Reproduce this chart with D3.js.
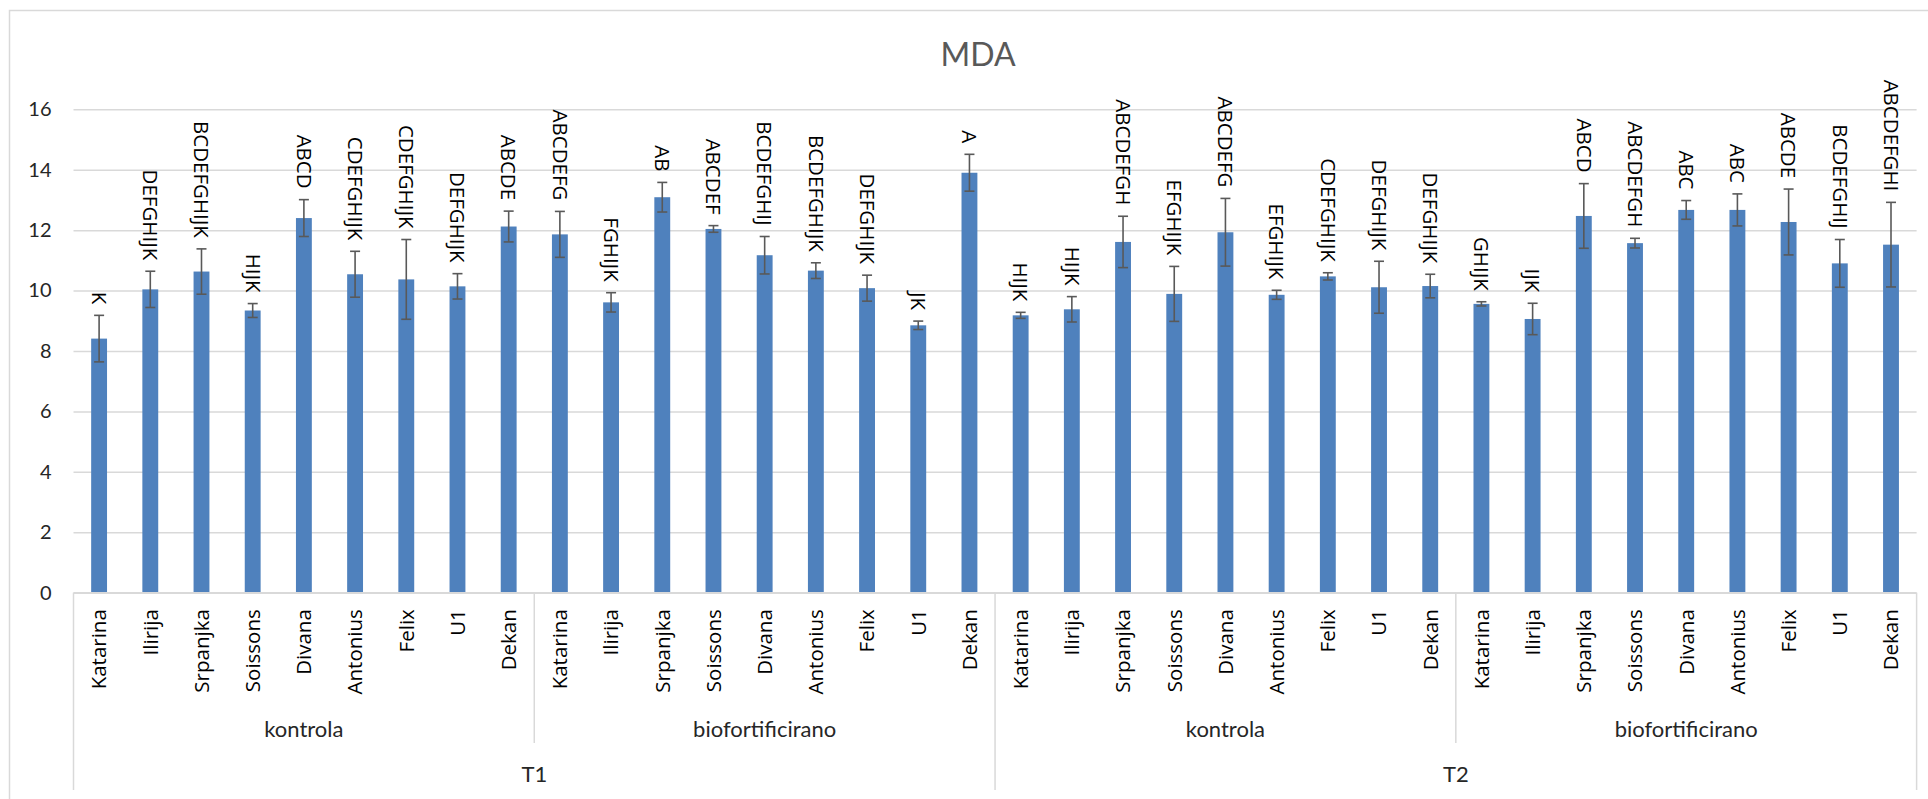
<!DOCTYPE html>
<html>
<head>
<meta charset="utf-8">
<script src="https://cdn.jsdelivr.net/npm/d3@7"></script>
<style>
  html, body { margin: 0; padding: 0; background: #ffffff; }
  svg { display: block; }
</style>
</head>
<body>
<svg id="chart" width="1928" height="799"></svg>
<script>
// ---------------- data ----------------
const times = ["T1", "T2"];
const treatments = ["kontrola", "biofortificirano"];
const cultivars = ["Katarina", "Ilirija", "Srpanjka", "Soissons", "Divana", "Antonius", "Felix", "U1", "Dekan"];

// MDA means, order: T1 kontrola, T1 biofortificirano, T2 kontrola, T2 biofortificirano
const values = [
  8.41, 10.04, 10.63, 9.34, 12.40, 10.54, 10.37, 10.14, 12.12,
  11.86, 9.61, 13.09, 12.04, 11.17, 10.66, 10.08, 8.85, 13.90,
  9.18, 9.38, 11.61, 9.89, 11.93, 9.86, 10.47, 10.11, 10.15,
  9.56, 9.06, 12.47, 11.57, 12.67, 12.67, 12.27, 10.90, 11.52
];
const errors = [
  0.77, 0.60, 0.75, 0.23, 0.61, 0.76, 1.32, 0.42, 0.51,
  0.76, 0.32, 0.49, 0.11, 0.62, 0.26, 0.43, 0.14, 0.61,
  0.10, 0.42, 0.85, 0.91, 1.12, 0.15, 0.12, 0.86, 0.39,
  0.07, 0.52, 1.07, 0.16, 0.31, 0.53, 1.09, 0.79, 1.40
];
const letters = [
  "K", "DEFGHIJK", "BCDEFGHIJK", "HIJK", "ABCD", "CDEFGHIJK", "CDEFGHIJK", "DEFGHIJK", "ABCDE",
  "ABCDEFG", "FGHIJK", "AB", "ABCDEF", "BCDEFGHIJ", "BCDEFGHIJK", "DEFGHIJK", "JK", "A",
  "HIJK", "HIJK", "ABCDEFGH", "EFGHIJK", "ABCDEFG", "EFGHIJK", "CDEFGHIJK", "DEFGHIJK", "DEFGHIJK",
  "GHIJK", "IJK", "ABCD", "ABCDEFGH", "ABC", "ABC", "ABCDE", "BCDEFGHIJ", "ABCDEFGHI"
];
const yTicks = [0, 2, 4, 6, 8, 10, 12, 14, 16];
const title = "MDA";

// ---------------- build rows ----------------
const rows = [];
times.forEach((t, ti) => treatments.forEach((tr, ri) => cultivars.forEach((c, ci) => {
  const i = rows.length;
  rows.push({ i, time: t, treatment: tr, cultivar: c, value: values[i], err: errors[i], letter: letters[i] });
})));

// ---------------- layout ----------------
const W = 1928, H = 799;
const plot = { left: 73.5, right: 1916.6, top: 109.3, bottom: 592.7 };
const svg = d3.select("#chart");

const x = d3.scaleBand()
  .domain(rows.map(d => d.i))
  .range([plot.left, plot.right])
  .paddingInner(0.69)
  .paddingOuter(0.345);
const y = d3.scaleLinear().domain([0, 16]).range([plot.bottom, plot.top]);
const step = x.step();
const cx = i => x(i) + x.bandwidth() / 2;
const boundary = i => cx(i) - step / 2;

const gridColor = "#d9d9d9";

// chart border
svg.append("rect")
  .attr("x", 9.5).attr("y", 10.5)
  .attr("width", W + 40).attr("height", H + 40)
  .attr("fill", "none").attr("stroke", gridColor).attr("stroke-width", 1.5);

// title
svg.append("text")
  .attr("x", 978).attr("y", 66)
  .attr("text-anchor", "middle")
  .attr("font-family", "Lato, 'Open Sans', sans-serif")
  .attr("font-size", 32)
  .attr("fill", "#595959")
  .text(title);

// y axis (gridlines + labels)
const yAxis = d3.axisLeft(y).tickValues(yTicks).tickSize(-(plot.right - plot.left)).tickPadding(22);
const gy = svg.append("g").attr("transform", `translate(${plot.left},0)`).call(yAxis);
gy.select(".domain").remove();
gy.selectAll(".tick line").attr("stroke", gridColor).attr("stroke-width", 1.5);
gy.selectAll(".tick text")
  .attr("font-family", "Lato, sans-serif")
  .attr("font-size", 20)
  .attr("fill", "#262626");

// bars
svg.append("g").selectAll("rect").data(rows).join("rect")
  .attr("x", d => x(d.i))
  .attr("y", d => y(d.value))
  .attr("width", x.bandwidth())
  .attr("height", d => y(0) - y(d.value))
  .attr("fill", "#4f81bd");

// error bars
const eb = svg.append("g").attr("stroke", "#595959").attr("stroke-width", 1.6);
const capW = 10;
eb.selectAll("line.v").data(rows).join("line").attr("class", "v")
  .attr("x1", d => cx(d.i)).attr("x2", d => cx(d.i))
  .attr("y1", d => y(d.value + d.err)).attr("y2", d => y(d.value - d.err));
eb.selectAll("line.t").data(rows).join("line").attr("class", "t")
  .attr("x1", d => cx(d.i) - capW / 2).attr("x2", d => cx(d.i) + capW / 2)
  .attr("y1", d => y(d.value + d.err)).attr("y2", d => y(d.value + d.err));
eb.selectAll("line.b").data(rows).join("line").attr("class", "b")
  .attr("x1", d => cx(d.i) - capW / 2).attr("x2", d => cx(d.i) + capW / 2)
  .attr("y1", d => y(d.value - d.err)).attr("y2", d => y(d.value - d.err));

// letter labels (rotated 90°, reading downward)
svg.append("g").selectAll("text").data(rows).join("text")
  .attr("transform", d => `translate(${cx(d.i)},${y(d.value + d.err) - 11}) rotate(90)`)
  .attr("text-anchor", "end")
  .attr("dy", "0.35em")
  .attr("font-family", "'Open Sans', sans-serif")
  .attr("font-size", 20.5)
  .attr("fill", "#000")
  .text(d => d.letter);

// category axis line
const ax = svg.append("g").attr("stroke", gridColor).attr("stroke-width", 1.5);
ax.append("line").attr("x1", plot.left).attr("x2", plot.right).attr("y1", plot.bottom).attr("y2", plot.bottom);

// category labels
svg.append("g").selectAll("text").data(rows).join("text")
  .attr("transform", d => `translate(${cx(d.i)},${plot.bottom + 16.5}) rotate(-90)`)
  .attr("text-anchor", "end")
  .attr("dy", "0.36em")
  .attr("font-family", "'Open Sans', sans-serif")
  .attr("font-size", 20.5)
  .attr("fill", "#000")
  .text(d => d.cultivar);

// group separators & labels
const nC = cultivars.length;
const nT = treatments.length;
const level1Bottom = 743, level2Bottom = 790;
const groups1 = [];
times.forEach((t, ti) => treatments.forEach((tr, ri) => {
  const start = (ti * nT + ri) * nC;
  groups1.push({ label: tr, start, end: start + nC });
}));
const groups2 = times.map((t, ti) => ({ label: t, start: ti * nT * nC, end: (ti + 1) * nT * nC }));
const edgeX = i => i < rows.length ? boundary(i) : plot.right;

// separators
const sepIdx = d3.range(0, rows.length + 1, nC);
sepIdx.forEach(i => {
  const isOuter = i % (nC * nT) === 0;
  ax.append("line")
    .attr("x1", edgeX(i)).attr("x2", edgeX(i))
    .attr("y1", plot.bottom).attr("y2", isOuter ? level2Bottom : level1Bottom);
});

svg.append("g").selectAll("text").data(groups1).join("text")
  .attr("x", d => (edgeX(d.start) + edgeX(d.end)) / 2)
  .attr("y", 737)
  .attr("text-anchor", "middle")
  .attr("font-family", "Lato, sans-serif")
  .attr("font-size", 22)
  .attr("fill", "#262626")
  .text(d => d.label);

svg.append("g").selectAll("text").data(groups2).join("text")
  .attr("x", d => (edgeX(d.start) + edgeX(d.end)) / 2)
  .attr("y", 782)
  .attr("text-anchor", "middle")
  .attr("font-family", "Lato, sans-serif")
  .attr("font-size", 22)
  .attr("fill", "#262626")
  .text(d => d.label);
</script>
</body>
</html>
